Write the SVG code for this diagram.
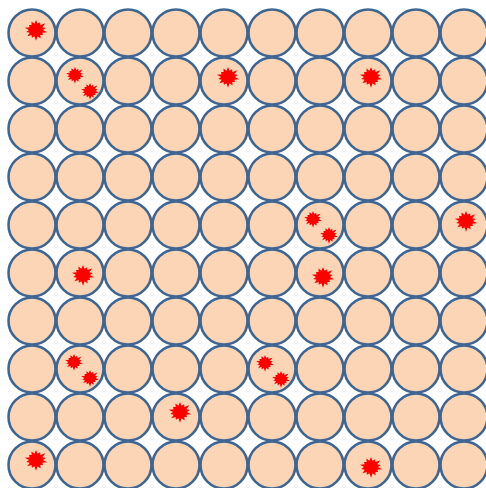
<svg xmlns="http://www.w3.org/2000/svg" xmlns:xlink="http://www.w3.org/1999/xlink" width="486" height="488" viewBox="0 0 486 488">
<style>
circle{fill:#FBD5B5;stroke:#3F6692;stroke-width:2.6}
.b{fill:#FF0000}
</style>
<defs>
<path id="burst" transform="scale(1,0.9)" d="M0,-11 L1.56,-6.83 L4.12,-8.56 L4.36,-5.47 L9.38,-7.48 L6.31,-3.03 L9.75,-2.23 L7,0 L11.21,2.56 L6.31,3.03 L7.04,5.61 L4.36,5.47 L4.56,9.46 L1.56,6.83 L0,12 L-1.56,6.83 L-4.12,8.56 L-4.36,5.47 L-8.6,6.86 L-6.31,3.03 L-9.75,2.23 L-7,0 L-11.21,-2.56 L-6.31,-3.03 L-7.04,-5.61 L-4.36,-5.47 L-4.56,-9.46 L-1.56,-6.83 Z"/>
</defs>
<g id="connectors"/>
<g id="r0">
<g id="c0_0"><circle cx="32" cy="33" r="23.5"/><use class="b" href="#burst" transform="translate(36,30)"/></g>
<g id="c0_1"><circle cx="80" cy="33" r="23.5"/></g>
<g id="c0_2"><circle cx="128" cy="33" r="23.5"/></g>
<g id="c0_3"><circle cx="176" cy="33" r="23.5"/></g>
<g id="c0_4"><circle cx="224" cy="33" r="23.5"/></g>
<g id="c0_5"><circle cx="272" cy="33" r="23.5"/></g>
<g id="c0_6"><circle cx="320" cy="33" r="23.5"/></g>
<g id="c0_7"><circle cx="368" cy="33" r="23.5"/></g>
<g id="c0_8"><circle cx="416" cy="33" r="23.5"/></g>
<g id="c0_9"><circle cx="464" cy="33" r="23.5"/></g>
</g>
<g id="r1">
<g id="c1_0"><circle cx="32" cy="81" r="23.5"/></g>
<g id="c1_1"><circle cx="80" cy="81" r="23.5"/><use class="b" href="#burst" transform="translate(75,75) scale(0.8)"/><use class="b" href="#burst" transform="translate(90,91) scale(0.8)"/></g>
<g id="c1_2"><circle cx="128" cy="81" r="23.5"/></g>
<g id="c1_3"><circle cx="176" cy="81" r="23.5"/></g>
<g id="c1_4"><circle cx="224" cy="81" r="23.5"/><use class="b" href="#burst" transform="translate(228,77)"/></g>
<g id="c1_5"><circle cx="272" cy="81" r="23.5"/></g>
<g id="c1_6"><circle cx="320" cy="81" r="23.5"/></g>
<g id="c1_7"><circle cx="368" cy="81" r="23.5"/><use class="b" href="#burst" transform="translate(371,77)"/></g>
<g id="c1_8"><circle cx="416" cy="81" r="23.5"/></g>
<g id="c1_9"><circle cx="464" cy="81" r="23.5"/></g>
</g>
<g id="r2">
<g id="c2_0"><circle cx="32" cy="129" r="23.5"/></g>
<g id="c2_1"><circle cx="80" cy="129" r="23.5"/></g>
<g id="c2_2"><circle cx="128" cy="129" r="23.5"/></g>
<g id="c2_3"><circle cx="176" cy="129" r="23.5"/></g>
<g id="c2_4"><circle cx="224" cy="129" r="23.5"/></g>
<g id="c2_5"><circle cx="272" cy="129" r="23.5"/></g>
<g id="c2_6"><circle cx="320" cy="129" r="23.5"/></g>
<g id="c2_7"><circle cx="368" cy="129" r="23.5"/></g>
<g id="c2_8"><circle cx="416" cy="129" r="23.5"/></g>
<g id="c2_9"><circle cx="464" cy="129" r="23.5"/></g>
</g>
<g id="r3">
<g id="c3_0"><circle cx="32" cy="177" r="23.5"/></g>
<g id="c3_1"><circle cx="80" cy="177" r="23.5"/></g>
<g id="c3_2"><circle cx="128" cy="177" r="23.5"/></g>
<g id="c3_3"><circle cx="176" cy="177" r="23.5"/></g>
<g id="c3_4"><circle cx="224" cy="177" r="23.5"/></g>
<g id="c3_5"><circle cx="272" cy="177" r="23.5"/></g>
<g id="c3_6"><circle cx="320" cy="177" r="23.5"/></g>
<g id="c3_7"><circle cx="368" cy="177" r="23.5"/></g>
<g id="c3_8"><circle cx="416" cy="177" r="23.5"/></g>
<g id="c3_9"><circle cx="464" cy="177" r="23.5"/></g>
</g>
<g id="r4">
<g id="c4_0"><circle cx="32" cy="225" r="23.5"/></g>
<g id="c4_1"><circle cx="80" cy="225" r="23.5"/></g>
<g id="c4_2"><circle cx="128" cy="225" r="23.5"/></g>
<g id="c4_3"><circle cx="176" cy="225" r="23.5"/></g>
<g id="c4_4"><circle cx="224" cy="225" r="23.5"/></g>
<g id="c4_5"><circle cx="272" cy="225" r="23.5"/></g>
<g id="c4_6"><circle cx="320" cy="225" r="23.5"/><use class="b" href="#burst" transform="translate(313,219) scale(0.8)"/><use class="b" href="#burst" transform="translate(329,235) scale(0.8)"/></g>
<g id="c4_7"><circle cx="368" cy="225" r="23.5"/></g>
<g id="c4_8"><circle cx="416" cy="225" r="23.5"/></g>
<g id="c4_9"><circle cx="464" cy="225" r="23.5"/><use class="b" href="#burst" transform="translate(466,221)"/></g>
</g>
<g id="r5">
<g id="c5_0"><circle cx="32" cy="273" r="23.5"/></g>
<g id="c5_1"><circle cx="80" cy="273" r="23.5"/><use class="b" href="#burst" transform="translate(83,275)"/></g>
<g id="c5_2"><circle cx="128" cy="273" r="23.5"/></g>
<g id="c5_3"><circle cx="176" cy="273" r="23.5"/></g>
<g id="c5_4"><circle cx="224" cy="273" r="23.5"/></g>
<g id="c5_5"><circle cx="272" cy="273" r="23.5"/></g>
<g id="c5_6"><circle cx="320" cy="273" r="23.5"/><use class="b" href="#burst" transform="translate(323,277)"/></g>
<g id="c5_7"><circle cx="368" cy="273" r="23.5"/></g>
<g id="c5_8"><circle cx="416" cy="273" r="23.5"/></g>
<g id="c5_9"><circle cx="464" cy="273" r="23.5"/></g>
</g>
<g id="r6">
<g id="c6_0"><circle cx="32" cy="321" r="23.5"/></g>
<g id="c6_1"><circle cx="80" cy="321" r="23.5"/></g>
<g id="c6_2"><circle cx="128" cy="321" r="23.5"/></g>
<g id="c6_3"><circle cx="176" cy="321" r="23.5"/></g>
<g id="c6_4"><circle cx="224" cy="321" r="23.5"/></g>
<g id="c6_5"><circle cx="272" cy="321" r="23.5"/></g>
<g id="c6_6"><circle cx="320" cy="321" r="23.5"/></g>
<g id="c6_7"><circle cx="368" cy="321" r="23.5"/></g>
<g id="c6_8"><circle cx="416" cy="321" r="23.5"/></g>
<g id="c6_9"><circle cx="464" cy="321" r="23.5"/></g>
</g>
<g id="r7">
<g id="c7_0"><circle cx="32" cy="369" r="23.5"/></g>
<g id="c7_1"><circle cx="80" cy="369" r="23.5"/><use class="b" href="#burst" transform="translate(74,362) scale(0.8)"/><use class="b" href="#burst" transform="translate(90,378) scale(0.8)"/></g>
<g id="c7_2"><circle cx="128" cy="369" r="23.5"/></g>
<g id="c7_3"><circle cx="176" cy="369" r="23.5"/></g>
<g id="c7_4"><circle cx="224" cy="369" r="23.5"/></g>
<g id="c7_5"><circle cx="272" cy="369" r="23.5"/><use class="b" href="#burst" transform="translate(265,363) scale(0.8)"/><use class="b" href="#burst" transform="translate(281,379) scale(0.8)"/></g>
<g id="c7_6"><circle cx="320" cy="369" r="23.5"/></g>
<g id="c7_7"><circle cx="368" cy="369" r="23.5"/></g>
<g id="c7_8"><circle cx="416" cy="369" r="23.5"/></g>
<g id="c7_9"><circle cx="464" cy="369" r="23.5"/></g>
</g>
<g id="r8">
<g id="c8_0"><circle cx="32" cy="417" r="23.5"/></g>
<g id="c8_1"><circle cx="80" cy="417" r="23.5"/></g>
<g id="c8_2"><circle cx="128" cy="417" r="23.5"/></g>
<g id="c8_3"><circle cx="176" cy="417" r="23.5"/><use class="b" href="#burst" transform="translate(180,412)"/></g>
<g id="c8_4"><circle cx="224" cy="417" r="23.5"/></g>
<g id="c8_5"><circle cx="272" cy="417" r="23.5"/></g>
<g id="c8_6"><circle cx="320" cy="417" r="23.5"/></g>
<g id="c8_7"><circle cx="368" cy="417" r="23.5"/></g>
<g id="c8_8"><circle cx="416" cy="417" r="23.5"/></g>
<g id="c8_9"><circle cx="464" cy="417" r="23.5"/></g>
</g>
<g id="r9">
<g id="c9_0"><circle cx="32" cy="465" r="23.5"/><use class="b" href="#burst" transform="translate(36,460)"/></g>
<g id="c9_1"><circle cx="80" cy="465" r="23.5"/></g>
<g id="c9_2"><circle cx="128" cy="465" r="23.5"/></g>
<g id="c9_3"><circle cx="176" cy="465" r="23.5"/></g>
<g id="c9_4"><circle cx="224" cy="465" r="23.5"/></g>
<g id="c9_5"><circle cx="272" cy="465" r="23.5"/></g>
<g id="c9_6"><circle cx="320" cy="465" r="23.5"/></g>
<g id="c9_7"><circle cx="368" cy="465" r="23.5"/><use class="b" href="#burst" transform="translate(371,467)"/></g>
<g id="c9_8"><circle cx="416" cy="465" r="23.5"/></g>
<g id="c9_9"><circle cx="464" cy="465" r="23.5"/></g>
</g>
</svg>
